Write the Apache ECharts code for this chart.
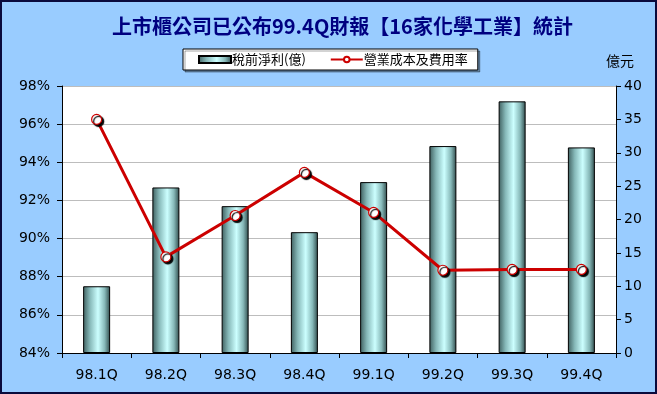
<!DOCTYPE html>
<html>
<head>
<meta charset="utf-8">
<script src="https://cdn.jsdelivr.net/npm/echarts@6/dist/echarts.min.js"></script>
<style>
html,body{margin:0;padding:0;background:#99CCFF;}
#chart{width:657px;height:394px;}
</style>
</head>
<body>
<div id="chart"></div>
<script>
const categories = ['98.1Q','98.2Q','98.3Q','98.4Q','99.1Q','99.2Q','99.3Q','99.4Q'];
const profitValues = [10.0, 24.8, 22.0, 18.1, 25.6, 31.0, 37.7, 30.8];        // 稅前淨利(億)
const costRateValues = [96.25, 89.04, 91.21, 93.47, 91.37, 88.34, 88.38, 88.38]; // 營業成本及費用率 (%)
const titleText = '上市櫃公司已公布99.4Q財報【16家化學工業】統計';
const barName = '稅前淨利(億)';
const lineName = '營業成本及費用率';
const rightUnit = '億元';

const chart = echarts.init(document.getElementById('chart'), null, {renderer:'canvas'});
const latin = 'DejaVu Sans';
const cjk = '"Noto Sans CJK TC", "Noto Sans CJK SC", sans-serif';

chart.setOption({
  backgroundColor: '#99CCFF',
  animation: false,
  title: {
    text: titleText,
    left: 107,
    top: 11,
    textStyle: {fontFamily: cjk, fontSize: 20, fontWeight: 'bold', color: '#000080'}
  },
  legend: {
    left: 183,
    top: 49,
    padding: [4, 10, 4, 15],
    itemGap: 24,
    itemWidth: 32,
    itemHeight: 7,
    backgroundColor: '#ffffff',
    borderColor: '#000000',
    borderWidth: 1,
    borderRadius: 0,
    shadowColor: 'rgba(0,0,0,0.35)',
    shadowOffsetX: 2,
    shadowOffsetY: 2,
    shadowBlur: 0,
    textStyle: {fontFamily: cjk, fontSize: 13, color: '#000', padding: [0, 0, 0, -4]},
    data: [
      {name: barName, icon: 'rect'},
      {name: lineName}
    ]
  },
  grid: {
    left: 62, right: 41, top: 86, bottom: 41,
    show: true, backgroundColor: '#ffffff', borderWidth: 0
  },
  xAxis: {
    type: 'category',
    data: categories,
    boundaryGap: true,
    axisLine: {lineStyle: {color: '#000', width: 1}},
    axisTick: {show: true, length: 5, lineStyle: {color: '#000'}},
    axisLabel: {fontFamily: latin, fontSize: 14, color: '#000', margin: 15}
  },
  yAxis: [
    {
      type: 'value',
      min: 84, max: 98, interval: 2,
      axisLine: {show: true, lineStyle: {color: '#000'}},
      axisTick: {show: true, length: 5, lineStyle: {color: '#000'}},
      axisLabel: {fontFamily: latin, fontSize: 14, color: '#000', margin: 12, formatter: '{value}%'},
      splitLine: {show: true, lineStyle: {color: '#BDBDBD', width: 1}}
    },
    {
      type: 'value',
      min: 0, max: 40, interval: 5,
      position: 'right',
      name: rightUnit,
      nameLocation: 'end',
      nameGap: 18,
      nameTextStyle: {fontFamily: cjk, fontSize: 14, color: '#000', padding: [0, 0, 0, 8]},
      axisLine: {show: true, lineStyle: {color: '#000'}},
      axisTick: {show: true, length: 5, lineStyle: {color: '#000'}},
      axisLabel: {fontFamily: latin, fontSize: 14, color: '#000', margin: 8},
      splitLine: {show: false}
    }
  ],
  series: [
    {
      name: barName,
      type: 'bar',
      yAxisIndex: 1,
      data: profitValues,
      barWidth: 27,
      itemStyle: {
        borderColor: '#000',
        borderWidth: 1,
        color: new echarts.graphic.LinearGradient(0, 0, 1, 0, [
          {offset: 0, color: '#3E5E5E'},
          {offset: 0.25, color: '#86B8B8'},
          {offset: 0.55, color: '#CCFFFF'},
          {offset: 0.8, color: '#86B8B8'},
          {offset: 1, color: '#2F4A4A'}
        ])
      },
      z: 2
    },
    {
      name: lineName,
      type: 'line',
      yAxisIndex: 0,
      data: costRateValues,
      symbol: 'circle',
      symbolSize: 10,
      lineStyle: {color: '#CC0000', width: 3},
      itemStyle: {
        color: '#ffffff',
        borderColor: '#CC0000',
        borderWidth: 1.2,
        shadowColor: 'rgba(0,0,0,1)',
        shadowOffsetX: 2,
        shadowOffsetY: 2,
        shadowBlur: 1
      },
      z: 3
    }
  ],
  graphic: [
    {
      type: 'rect',
      shape: {x: 1, y: 1, width: 655, height: 392},
      style: {fill: 'none', stroke: '#0A0A3C', lineWidth: 2},
      silent: true,
      z: 100
    }
  ]
});
</script>
</body>
</html>
